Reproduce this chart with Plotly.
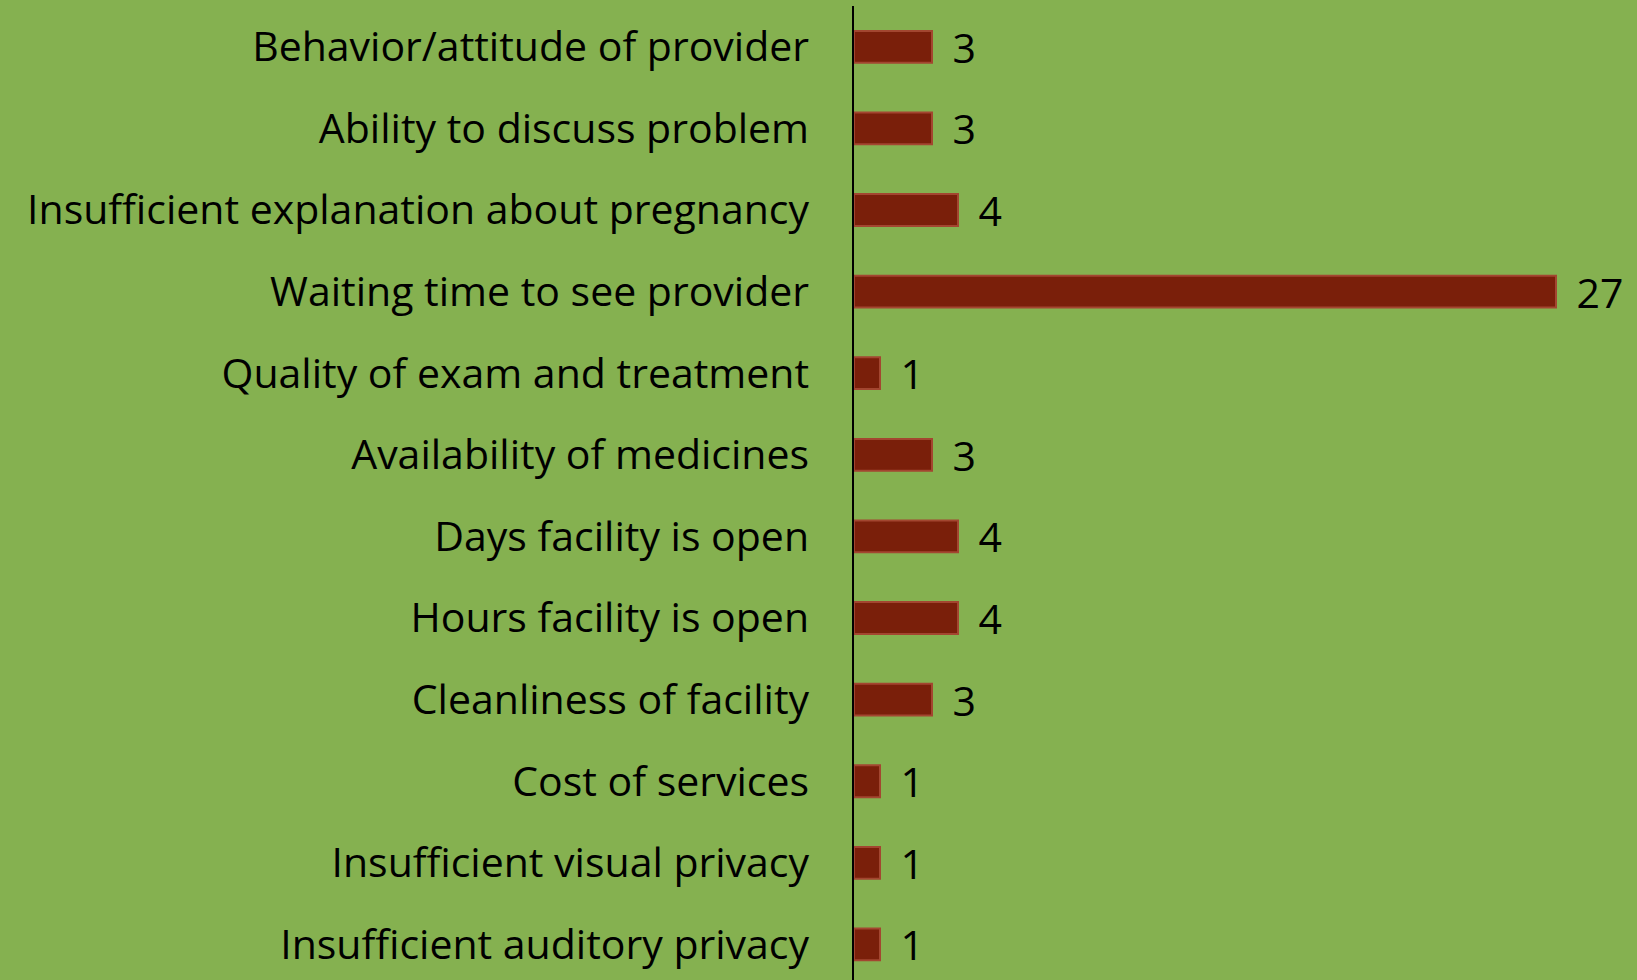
import plotly.graph_objects as go

categories = [
    "Behavior/attitude of provider",
    "Ability to discuss problem",
    "Insufficient explanation about pregnancy",
    "Waiting time to see provider",
    "Quality of exam and treatment",
    "Availability of medicines",
    "Days facility is open",
    "Hours facility is open",
    "Cleanliness of facility",
    "Cost of services",
    "Insufficient visual privacy",
    "Insufficient auditory privacy",
]
values = [3, 3, 4, 27, 1, 3, 4, 4, 3, 1, 1, 1]

BG = "#85b150"
FONT = "Open Sans, Calibri, sans-serif"

fig = go.Figure()
fig.add_trace(go.Bar(
    x=values,
    y=categories,
    orientation="h",
    width=0.39,
    marker=dict(color="#7a1f0a", line=dict(color="#a34630", width=2)),
    text=values,
    texttemplate="\u00a0\u2006%{x}",
    textposition="outside",
    constraintext="none",
    textfont=dict(family=FONT, size=41, color="#000000"),
    cliponaxis=False,
    showlegend=False,
))

fig.update_layout(
    width=1637,
    height=980,
    paper_bgcolor=BG,
    plot_bgcolor=BG,
    margin=dict(l=854, r=3, t=6, b=0),
    font=dict(family=FONT, size=41, color="#000000"),
    bargap=0.6,
    xaxis=dict(
        range=[0, 30],
        showgrid=False,
        zeroline=False,
        showticklabels=False,
        showline=False,
        ticks="",
    ),
    yaxis=dict(
        type="category",
        range=[11.436, -0.5],
        showgrid=False,
        zeroline=False,
        showline=True,
        linecolor="#000000",
        linewidth=1.5,
        ticks="",
        ticklabelstandoff=35,
        tickfont=dict(family=FONT, size=41, color="#000000"),
    ),
)

fig.write_html(
    "out.html",
    config={"displayModeBar": False},
    post_script="document.body.style.margin='0';document.body.style.overflow='hidden';document.body.style.background='" + BG + "';",
)
